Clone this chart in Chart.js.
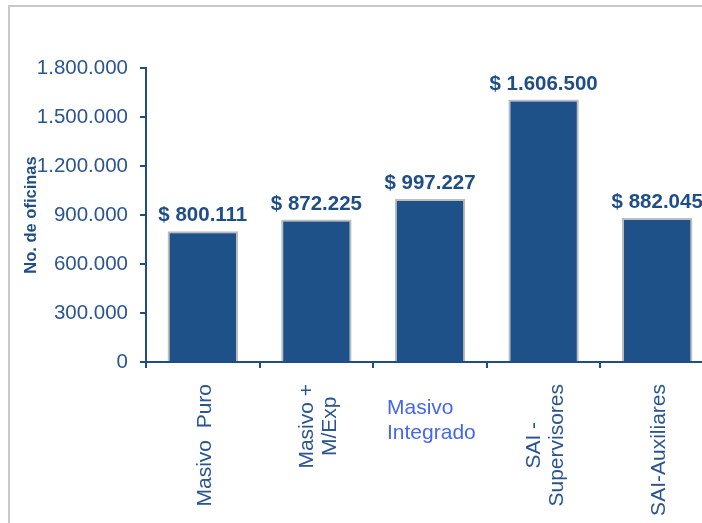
<!DOCTYPE html>
<html>
<head>
<meta charset="utf-8">
<script src="https://cdn.jsdelivr.net/npm/chart.js@4.4.1/dist/chart.umd.min.js"></script>
<style>
  html, body { margin: 0; padding: 0; background: #fff; overflow: hidden; width: 702px; height: 523px; }
  #frame { position: absolute; left: 8px; top: 5px; width: 800px; height: 600px;
           border-top: 2px solid #c8c8c8; border-left: 2px solid #c8c8c8; }
  #wrap { position: absolute; left: 0; top: 0; width: 716px; height: 523px; }
</style>
</head>
<body>
<div id="frame"></div>
<div id="wrap"><canvas id="chart"></canvas></div>
<script>
// categories (one entry per line of the label)
var categories = [["Masivo  Puro"], ["Masivo +", "M/Exp"], ["Masivo", "Integrado"], ["SAI -", "Supervisores"], ["SAI-Auxiliares"]];
var salaries = [800111, 872225, 997227, 1606500, 882045];
var yTicks = [0, 300000, 600000, 900000, 1200000, 1500000, 1800000];
var yTitle = "No. de oficinas";

// which category labels are drawn vertically (the third one is horizontal in the original)
var labelRotated = [true, true, false, true, true];

var AXIS = '#1F4E87';
var TEXT = '#2A5590';
var FONT = "'Liberation Sans', Arial, sans-serif";

function dots(n) {
    return String(Math.round(n)).replace(/\B(?=(\d{3})+(?!\d))/g, '.');
}

// value labels above the bars
var valueLabels = {
    id: 'valueLabels',
    afterDatasetsDraw: function(chart) {
        var ctx = chart.ctx;
        var meta = chart.getDatasetMeta(0);
        ctx.save();
        ctx.font = 'bold 20.5px ' + FONT;
        ctx.fillStyle = AXIS;
        ctx.textAlign = 'center';
        ctx.textBaseline = 'alphabetic';
        meta.data.forEach(function(bar, i) {
            ctx.fillText('$ ' + dots(salaries[i]), bar.x, bar.y - 10);
        });
        ctx.restore();
    }
};

// category labels under the x axis
var catLabels = {
    id: 'catLabels',
    afterDraw: function(chart) {
        var ctx = chart.ctx;
        var x = chart.scales.x;
        var top = chart.chartArea.bottom + 22;
        ctx.save();
        ctx.font = '21px ' + FONT;
        categories.forEach(function(lines, i) {
            var cx = x.getPixelForValue(i);
            if (labelRotated[i]) {
                ctx.fillStyle = TEXT;
                var len = Math.max.apply(null, lines.map(function(l) { return ctx.measureText(l).width; }));
                var gap = 23;
                lines.forEach(function(l, j) {
                    var lx = cx + (j - (lines.length - 1) / 2) * gap + 2;
                    ctx.save();
                    ctx.translate(lx, top + len / 2);
                    ctx.rotate(-Math.PI / 2);
                    ctx.textAlign = 'center';
                    ctx.textBaseline = 'middle';
                    ctx.fillText(l, 0, 0);
                    ctx.restore();
                });
            } else {
                ctx.fillStyle = '#4466F5';
                ctx.textAlign = 'left';
                ctx.textBaseline = 'alphabetic';
                lines.forEach(function(l, j) {
                    ctx.fillText(l, cx - 43, chart.chartArea.bottom + 52 + j * 25);
                });
            }
        });
        ctx.restore();
    }
};

new Chart(document.getElementById('chart'), {
    type: 'bar',
    data: {
        labels: categories.map(function(c) { return c.join(' '); }),
        datasets: [{
            data: salaries,
            backgroundColor: '#1F5189',
            borderColor: '#BDBDBD',
            borderWidth: 2,
            categoryPercentage: 1,
            barPercentage: 0.62
        }]
    },
    options: {
        responsive: true,
        maintainAspectRatio: false,
        animation: false,
        layout: { padding: { top: 68, right: 2, left: 0, bottom: 0 } },
        plugins: { legend: { display: false }, tooltip: { enabled: false } },
        scales: {
            x: {
                afterFit: function(s) { s.height = 161; },
                grid: { drawOnChartArea: false, tickLength: 6, color: AXIS, lineWidth: 2 },
                border: { color: AXIS, width: 2 },
                ticks: { display: false }
            },
            y: {
                min: 0,
                max: 1800000,
                afterFit: function(s) { s.width = 146; },
                afterBuildTicks: function(s) { s.ticks = yTicks.map(function(v) { return { value: v }; }); },
                grid: { drawOnChartArea: false, tickLength: 6, color: AXIS, lineWidth: 2 },
                border: { color: AXIS, width: 2 },
                ticks: {
                    color: TEXT,
                    font: { family: FONT, size: 20.5 },
                    padding: 12,
                    callback: function(v) { return dots(v); }
                },
                title: {
                    display: true,
                    text: yTitle,
                    color: AXIS,
                    font: { family: FONT, size: 16.5, weight: 'bold' },
                    padding: { top: 22, bottom: 0 }
                }
            }
        }
    },
    plugins: [valueLabels, catLabels]
});
</script>
</body>
</html>
